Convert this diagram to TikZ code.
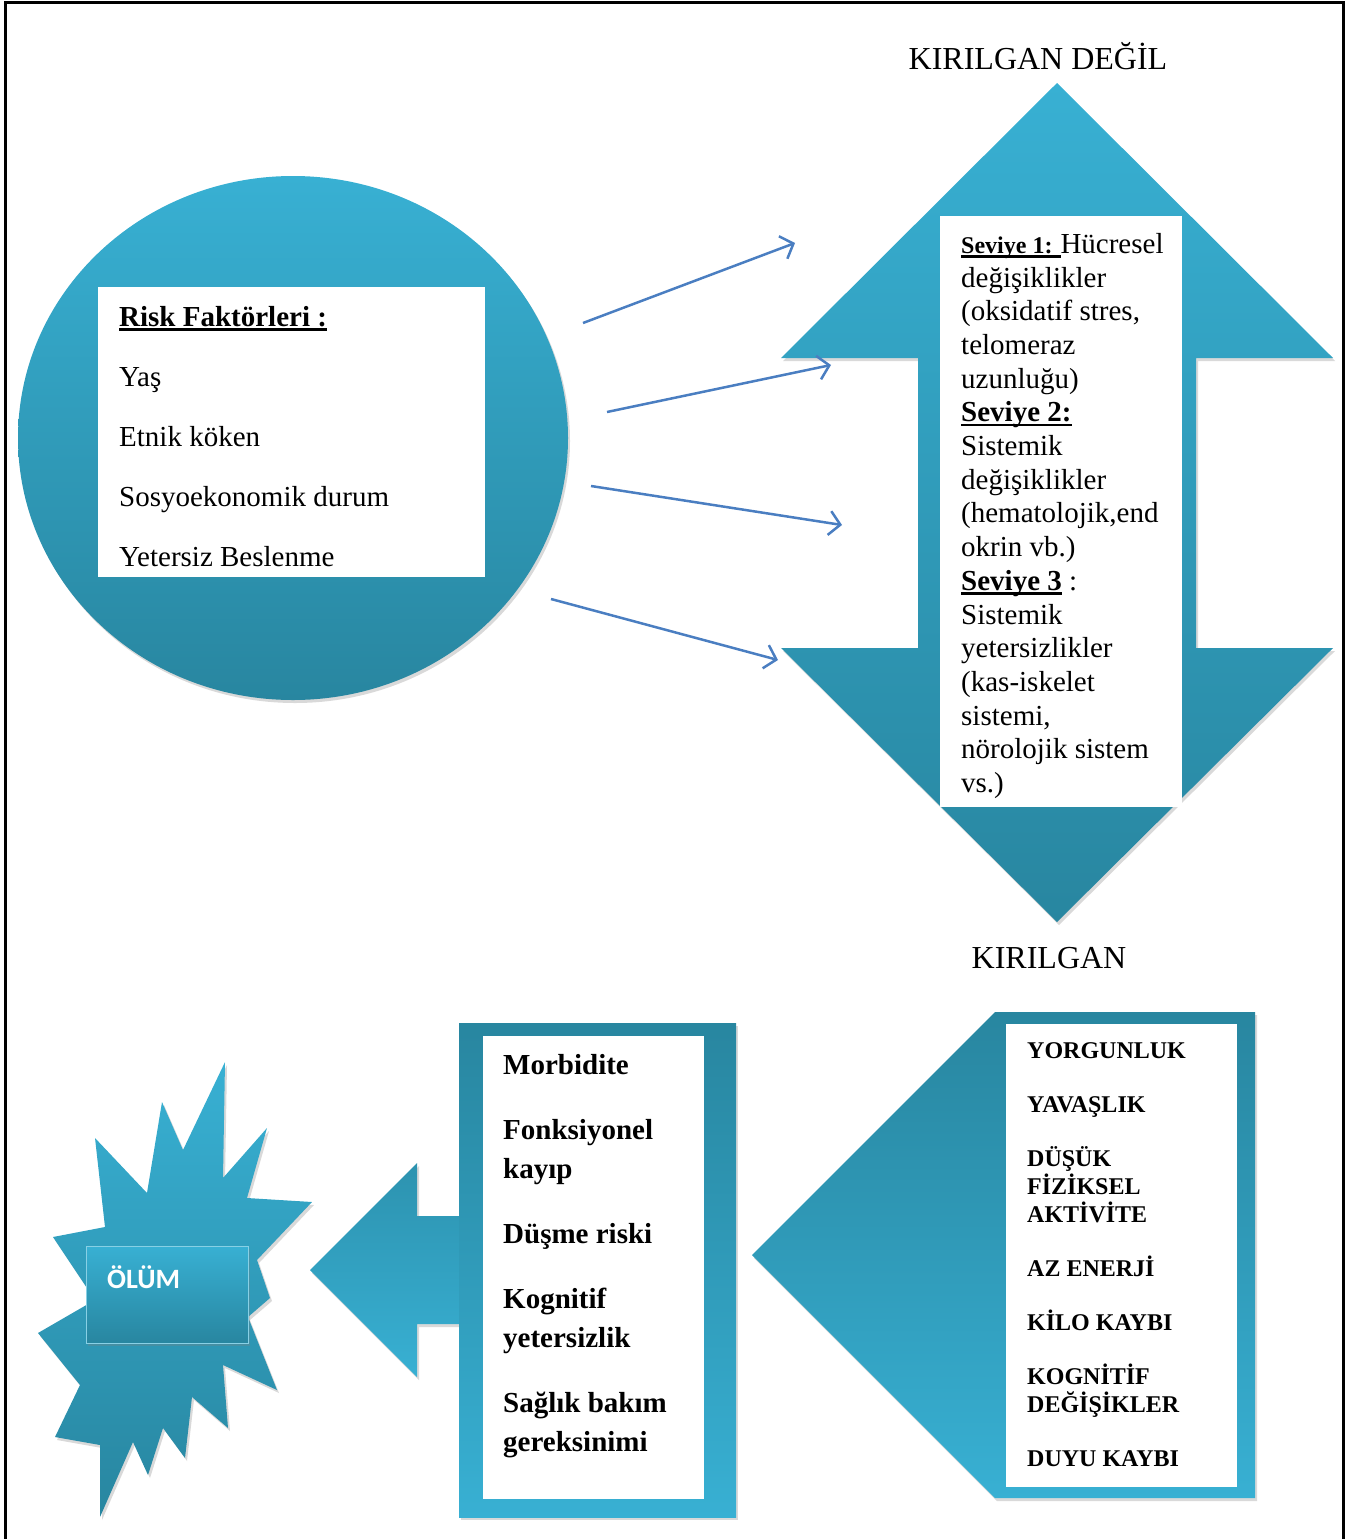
\documentclass[tikz,border=0pt]{standalone}
\usepackage{fontspec}
\setmainfont{Liberation Serif}
\newfontfamily\labelsans{Carlito}
\usepackage{xcolor}
\usepackage{tikz}
\usetikzlibrary{positioning,arrows.meta,shapes.geometric,shadows,calc}

\definecolor{tealtop}{RGB}{56,176,211}
\definecolor{tealbot}{RGB}{40,134,160}
\definecolor{linkblue}{RGB}{74,126,193}
\newcommand{\thickul}[1]{\setbox0\hbox{#1}\rlap{\rule[-4.5pt]{\wd0}{2.4pt}}\box0\relax}

\begin{document}
\begin{tikzpicture}[
  x=1pt, y=-1pt,
  softshadow/.style={drop shadow={shadow xshift=2pt, shadow yshift=-3pt, opacity=0.3}},
  lightdown/.style={top color=tealtop, bottom color=tealbot},
  darkdown/.style={top color=tealbot, bottom color=tealtop},
  panel/.style={rectangle, fill=white, inner sep=0pt, anchor=north west},
  frame/.style={rectangle, inner sep=0pt, anchor=north west, softshadow},
  listtext/.style={inner sep=0pt, anchor=north west, align=left},
  caption/.style={font=\fontsize{32}{38}\selectfont, anchor=base},
  arr/.style={linkblue, line width=2.5pt, -{Straight Barb[length=11pt, width=24pt]}},
]
\useasboundingbox (0,0) rectangle (1354,1539);
\draw[line width=3pt] (5,1539) -- (5,2) -- (1343,2) -- (1343,1539);

% risk factors
\node[ellipse, lightdown, softshadow, minimum width=550pt, minimum height=524pt] (riskcircle) at (293,438) {};
\node[panel, minimum width=387pt, minimum height=290pt] (riskbox) at (98,287) {};
\node[listtext, font=\fontsize{29}{60}\selectfont] (risklist) at (119,306)
  {\thickul{\textbf{Risk Faktörleri :}}\\Yaş\\Etnik köken\\Sosyoekonomik durum\\Yetersiz Beslenme};

% levels (double arrow)
\path[lightdown, softshadow] (1057,83) -- (1333,358) -- (1196,358) -- (1196,648) -- (1333,648)
  -- (1057,922) -- (781,648) -- (918,648) -- (918,358) -- (781,358) -- cycle;
\node[caption] (notfrail) at (1038,69) {KIRILGAN DEĞİL};
\node[caption] (frail) at (1049,968) {KIRILGAN};
\node[panel, minimum width=242pt, minimum height=591pt] (levelbox) at (940,216) {};
\node[listtext, font=\fontsize{29}{33.7}\selectfont] (levellist) at (961,233)
  {\thickul{\textbf{\fontsize{24}{28}\selectfont Seviye 1: }}Hücresel\\değişiklikler\\(oksidatif stres,\\telomeraz\\uzunluğu)\\
   \thickul{\textbf{Seviye 2:}}\\Sistemik\\değişiklikler\\(hematolojik,end\\okrin vb.)\\
   \thickul{\textbf{Seviye 3}} :\\Sistemik\\yetersizlikler\\(kas-iskelet\\sistemi,\\nörolojik sistem\\vs.)};

% risk -> levels
\coordinate (risk1) at (583,323);  \coordinate (level1) at (795,243);
\coordinate (risk2) at (607,412);  \coordinate (level2) at (831,365);
\coordinate (risk3) at (591,486);  \coordinate (level3) at (842,525);
\coordinate (risk4) at (551,599);  \coordinate (level4) at (778,660);
\draw[arr] (risk1) -- (level1);
\draw[arr] (risk2) -- (level2);
\draw[arr] (risk3) -- (level3);
\draw[arr] (risk4) -- (level4);

% signs
\path[darkdown, softshadow] (995,1012) -- (1255,1012) -- (1255,1498) -- (995,1498) -- (752,1255) -- cycle;
\node[panel, minimum width=231pt, minimum height=463pt] (signbox) at (1006,1024) {};
\node[listtext, font=\bfseries\fontsize{24}{28}\selectfont] (signlist) at (1027,1042)
  {YORGUNLUK\\[26pt]YAVAŞLIK\\[26pt]DÜŞÜK\\FİZİKSEL\\AKTİVİTE\\[26pt]AZ ENERJİ\\[26pt]KİLO KAYBI\\[26pt]KOGNİTİF\\DEĞİŞİKLER\\[26pt]DUYU KAYBI};

% outcomes
\path[top color=tealbot!70!tealtop, bottom color=tealtop, softshadow] (310,1270) -- (417,1163) -- (417,1216)
  -- (480,1216) -- (480,1324) -- (417,1324) -- (417,1377) -- cycle;
\node[frame, darkdown, minimum width=277pt, minimum height=494pt] (outcomeframe) at (459,1023) {};
\node[panel, minimum width=221pt, minimum height=463pt] (outcomebox) at (483,1036) {};
\node[listtext, font=\bfseries\fontsize{29}{39}\selectfont] (outcomelist) at (503,1054)
  {Morbidite\\[26pt]Fonksiyonel\\kayıp\\[26pt]Düşme riski\\[26pt]Kognitif\\yetersizlik\\[26pt]Sağlık bakım\\gereksinimi};

% death
\path[lightdown, softshadow] (225,1062) -- (223,1178) -- (267,1128) -- (247,1198) -- (312,1202) -- (257,1260)
  -- (270,1298) -- (248,1317) -- (277,1390) -- (223,1365) -- (228,1428) -- (192,1397) -- (185,1458)
  -- (163,1428) -- (148,1475) -- (133,1442) -- (100,1517) -- (100,1445) -- (55,1437) -- (80,1385)
  -- (38,1333) -- (95,1300) -- (53,1237) -- (105,1227) -- (95,1138) -- (147,1193) -- (162,1102)
  -- (183,1150) -- cycle;
\node[frame, lightdown, draw=tealtop!60!white, minimum width=162pt, minimum height=97pt] (deathbox) at (86,1246) {};
\node[anchor=base west, inner sep=0pt, text=white, font=\labelsans\bfseries\fontsize{28}{32}\selectfont] (deathlabel) at (107,1288) {ÖLÜM};
\end{tikzpicture}
\end{document}
